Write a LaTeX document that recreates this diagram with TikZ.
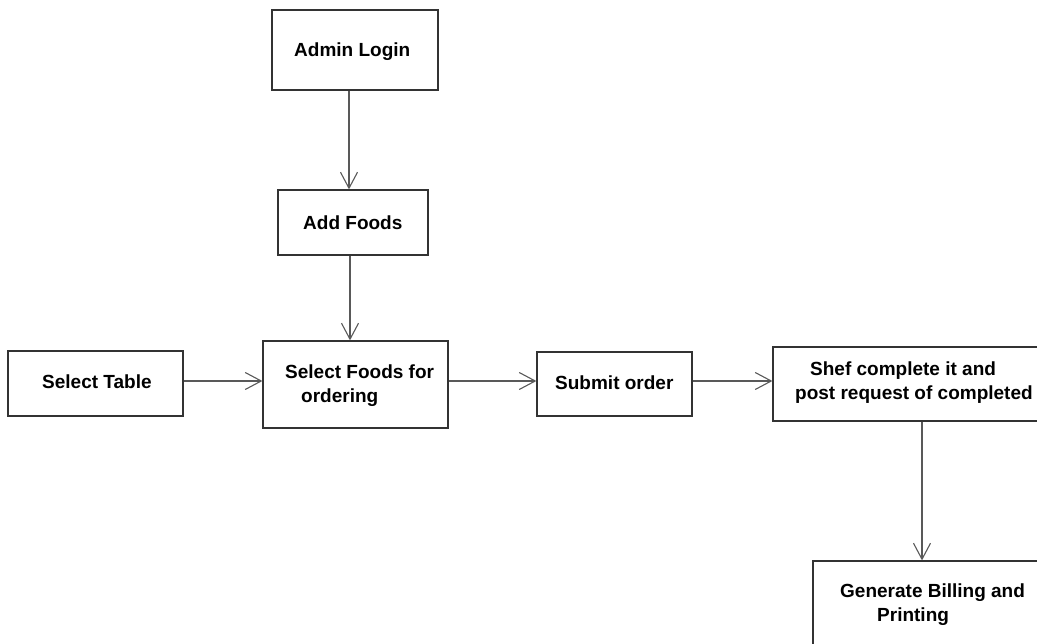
\documentclass[tikz,border=0pt]{standalone}
\usepackage{fontspec}
\setmainfont{Liberation Sans}
\usetikzlibrary{arrows.meta}
\begin{document}
\begin{tikzpicture}[x=1pt,y=-1pt,
  box/.style={draw=black!80,line width=1.2pt,rectangle,inner sep=0pt},
  txt/.style={font=\bfseries\fontsize{19}{23}\selectfont,inner sep=0pt,anchor=west,text=black},
  conn/.style={draw=black!65,line width=1.1pt,-{Straight Barb[length=16pt,width=17pt,line width=1.1pt]}}]
\useasboundingbox (0,0) rectangle (1037,644);
\clip (0,0) rectangle (1037,644);
% boxes
\node[box,minimum width=166pt,minimum height=80pt] (admin) at (355,50) {};
\node[box,minimum width=150pt,minimum height=65pt] (add) at (353,222.5) {};
\node[box,minimum width=175pt,minimum height=65pt] (table) at (95.5,383.5) {};
\node[box,minimum width=185pt,minimum height=87pt] (sel) at (355.5,384.5) {};
\node[box,minimum width=155pt,minimum height=64pt] (sub) at (614.5,384) {};
\node[box,minimum width=290pt,minimum height=74pt] (shef) at (918,384) {};
\node[box,minimum width=260pt,minimum height=120pt] (gen) at (943,621) {};
% texts
\node[txt] (tadmin) at (294,52) {Admin Login};
\node[txt] (tadd) at (303,223) {Add Foods};
\node[txt] (ttable) at (42,382) {Select Table};
\node[txt] (tsel1) at (285,372) {Select Foods for};
\node[txt] (tsel2) at (301,398) {ordering};
\node[txt] (tsub) at (555,383) {Submit order};
\node[txt] (tshef1) at (810,371) {Shef complete it and};
\node[txt] (tshef2) at (795,395) {post request of completed};
\node[txt] (tgen1) at (840,593) {Generate Billing and};
\node[txt] (tgen2) at (877,617) {Printing};
% connectors
\draw[conn] (admin.south -| 349,0) -- (add.north -| 349,0);
\draw[conn] (add.south -| 350,0) -- (sel.north -| 350,0);
\draw[conn] (table.east |- 0,381) -- (sel.west |- 0,381);
\draw[conn] (sel.east |- 0,381) -- (sub.west |- 0,381);
\draw[conn] (sub.east |- 0,381) -- (shef.west |- 0,381);
\draw[conn] (shef.south -| 922,0) -- (gen.north -| 922,0);
\end{tikzpicture}
\end{document}
